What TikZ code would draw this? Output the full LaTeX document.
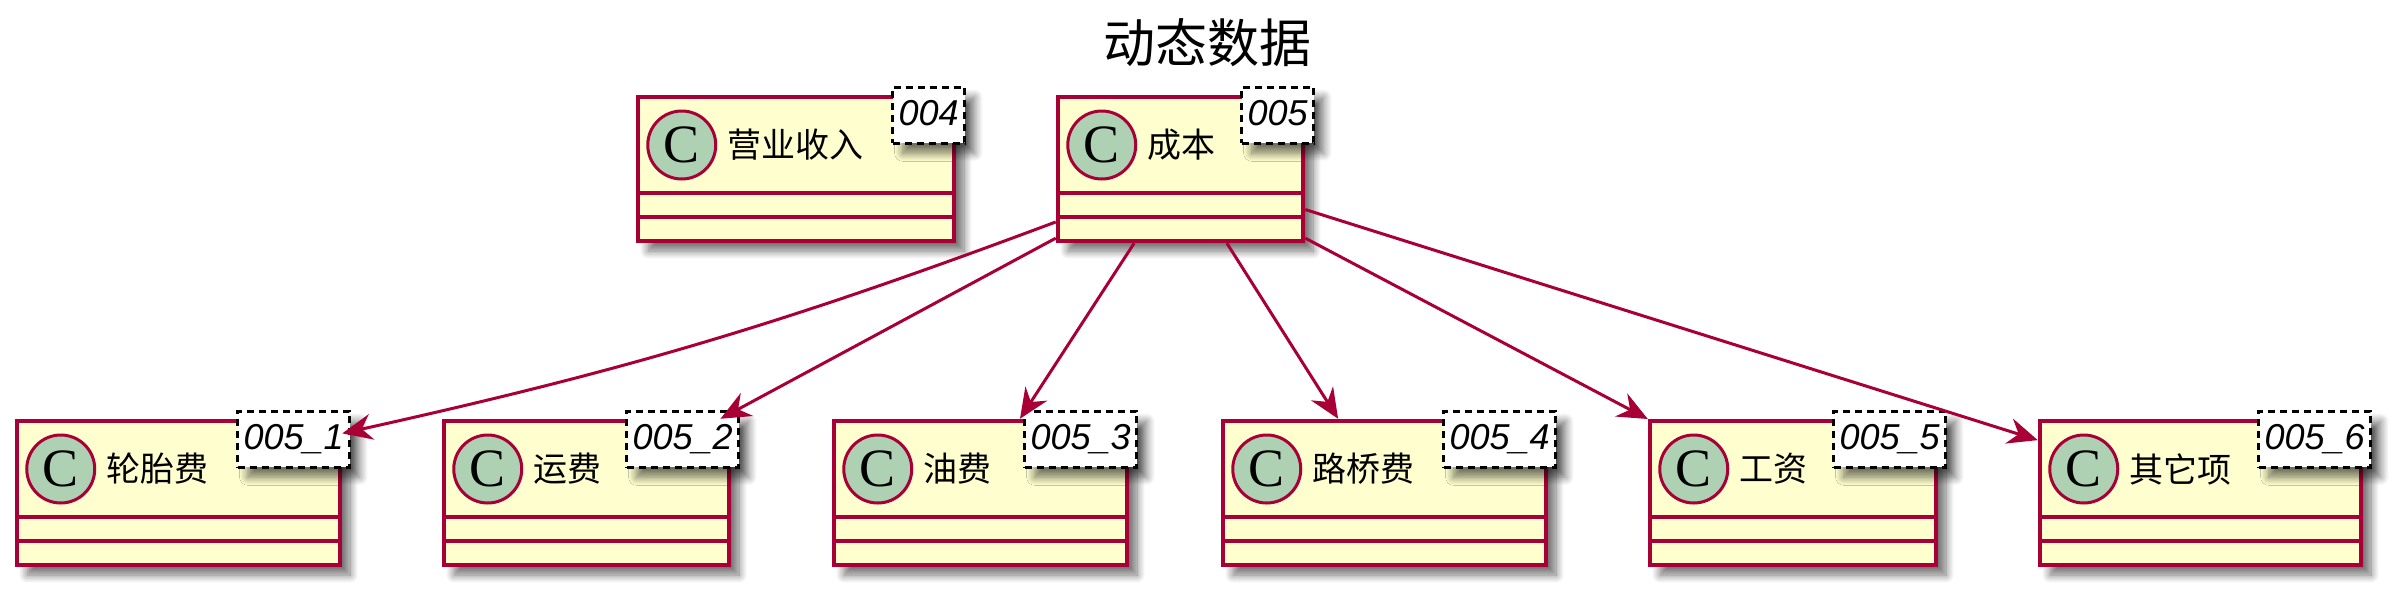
\documentclass[tikz,border=0pt]{standalone}
\usepackage{fontspec}
\setmainfont{Liberation Serif}
\newfontfamily\cjk{Noto Sans CJK SC}
\newfontfamily\genfont{Liberation Sans}
\usetikzlibrary{positioning, arrows.meta, shadows.blur}
\definecolor{umlRed}{HTML}{A80036}
\definecolor{umlFill}{HTML}{FEFECE}
\definecolor{umlSpot}{HTML}{ADD1B2}

\begin{document}
\begin{tikzpicture}[
    x=1pt, y=-1pt, every node/.style={inner sep=0pt},
    boxShadow/.style={blur shadow={shadow xshift=10pt, shadow yshift=-10pt, shadow blur steps=10, shadow blur radius=8pt, shadow opacity=55}},
    clsNode/.style={rectangle, draw=umlRed, fill=umlFill, line width=4.5pt, minimum height=144pt, boxShadow,
        path picture={\draw[umlRed, line width=4.5pt]
            ([yshift=24pt]path picture bounding box.south west) -- ([yshift=24pt]path picture bounding box.south east)
            ([yshift=48pt]path picture bounding box.south west) -- ([yshift=48pt]path picture bounding box.south east);}},
    spotNode/.style={circle, draw=umlRed, fill=umlSpot, line width=3pt, minimum size=68pt, font=\fontsize{54}{54}\selectfont},
    nameNode/.style={font=\cjk\fontsize{34}{40}\selectfont},
    genNode/.style={draw=black, fill=white, line width=3pt, dash pattern=on 7pt off 5pt, minimum height=56pt, inner xsep=6pt,
        text height=26pt, text depth=6pt, font=\genfont\itshape\fontsize{36}{40}\selectfont, anchor=north east, boxShadow},
    linkEdge/.style={draw=umlRed, line width=3pt, -{Stealth[length=30pt, width=26pt, inset=10pt]}}
]
    \useasboundingbox (0,0) rectangle (2400,595);
    \node[font=\cjk\fontsize{52}{56}\selectfont] (title) at (1207,43) {动态数据};

    \node[clsNode, minimum width=316pt] (income) at (796,169) {};
    \node[spotNode] (incomeC) at ([xshift=46pt, yshift=24pt]income.west) {C};
    \node[nameNode, right=10pt of incomeC] (incomeN) {营业收入};
    \node[genNode] (incomeG) at ([xshift=10pt, yshift=9pt]income.north east) {004};

    \node[clsNode, minimum width=245pt] (cost) at (1180.5,169) {};
    \node[spotNode] (costC) at ([xshift=46pt, yshift=24pt]cost.west) {C};
    \node[nameNode, right=10pt of costC] (costN) {成本};
    \node[genNode] (costG) at ([xshift=10pt, yshift=9pt]cost.north east) {005};

    \node[clsNode, minimum width=323pt] (tyre) at (178.5,493) {};
    \node[spotNode] (tyreC) at ([xshift=46pt, yshift=24pt]tyre.west) {C};
    \node[nameNode, right=10pt of tyreC] (tyreN) {轮胎费};
    \node[genNode] (tyreG) at ([xshift=9pt, yshift=9pt]tyre.north east) {005\_1};

    \node[clsNode, minimum width=285pt] (freight) at (586.5,493) {};
    \node[spotNode] (freightC) at ([xshift=46pt, yshift=24pt]freight.west) {C};
    \node[nameNode, right=10pt of freightC] (freightN) {运费};
    \node[genNode] (freightG) at ([xshift=9pt, yshift=9pt]freight.north east) {005\_2};

    \node[clsNode, minimum width=293pt] (oil) at (980.5,493) {};
    \node[spotNode] (oilC) at ([xshift=46pt, yshift=24pt]oil.west) {C};
    \node[nameNode, right=10pt of oilC] (oilN) {油费};
    \node[genNode] (oilG) at ([xshift=9pt, yshift=9pt]oil.north east) {005\_3};

    \node[clsNode, minimum width=323pt] (toll) at (1384.5,493) {};
    \node[spotNode] (tollC) at ([xshift=46pt, yshift=24pt]toll.west) {C};
    \node[nameNode, right=10pt of tollC] (tollN) {路桥费};
    \node[genNode] (tollG) at ([xshift=9pt, yshift=9pt]toll.north east) {005\_4};

    \node[clsNode, minimum width=286pt] (wage) at (1793,493) {};
    \node[spotNode] (wageC) at ([xshift=46pt, yshift=24pt]wage.west) {C};
    \node[nameNode, right=10pt of wageC] (wageN) {工资};
    \node[genNode] (wageG) at ([xshift=9pt, yshift=9pt]wage.north east) {005\_5};

    \node[clsNode, minimum width=321pt] (other) at (2200.5,493) {};
    \node[spotNode] (otherC) at ([xshift=46pt, yshift=24pt]other.west) {C};
    \node[nameNode, right=10pt of otherC] (otherN) {其它项};
    \node[genNode] (otherG) at ([xshift=9pt, yshift=9pt]other.north east) {005\_6};

    \draw[linkEdge] (cost.203) to[bend left=4] (tyre.20);
    \draw[linkEdge] (cost.209) -- (freight.29);
    \draw[linkEdge] (cost.238) -- (oil.62);
    \draw[linkEdge] (cost.302) -- (toll.122);
    \draw[linkEdge] (cost.331) -- (wage.153);
    \draw[linkEdge] (cost.342) -- (other.162);
\end{tikzpicture}
\end{document}
